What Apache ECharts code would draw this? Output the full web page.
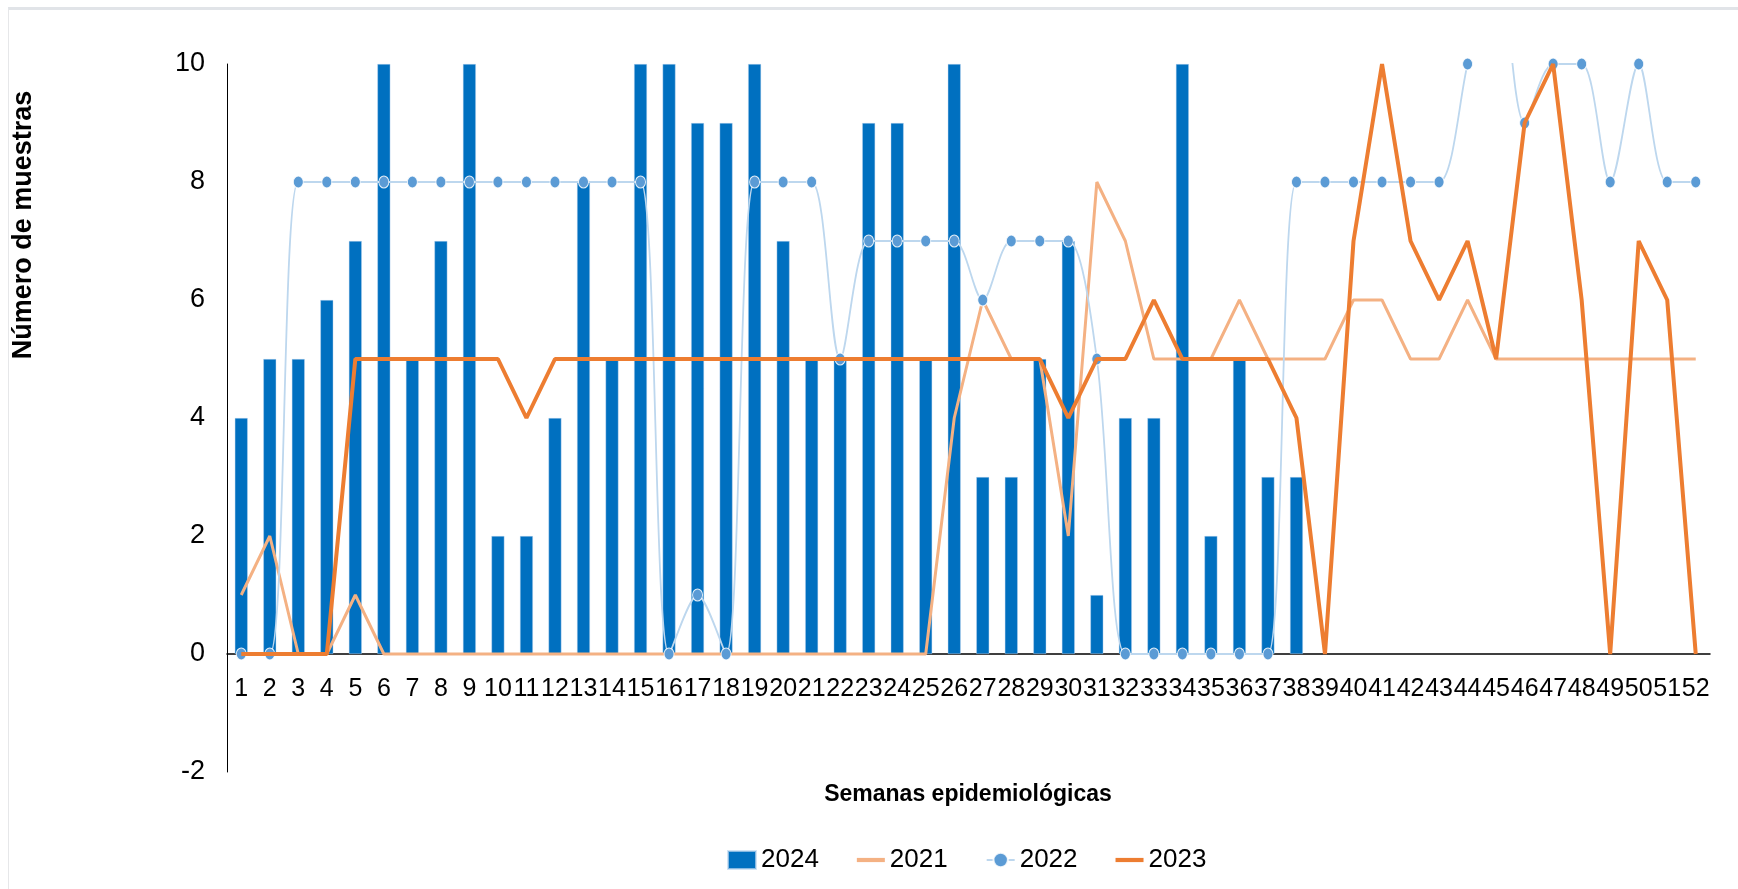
<!DOCTYPE html>
<html lang="es">
<head>
    <meta charset="UTF-8">
    <title>Número de muestras por semana epidemiológica</title>
    <script src="https://cdn.jsdelivr.net/npm/echarts@6/dist/echarts.min.js"></script>
    <style>
        html, body {
            width: 100%;
            height: 100%;
            margin: 0;
            padding: 0;
            overflow: hidden;
            background-color: #fff;
        }
        /* thin frame of the original card, top and left edges */
        .frame {
            position: absolute;
            left: 8px;
            top: 7px;
            right: -10px;
            bottom: -10px;
            border-top: 3px solid #e1e4e8;
            border-left: 1px solid #e6e7e9;
        }
        #chart {
            position: absolute;
            left: 0;
            top: 0;
            width: 1738px;
            height: 889px;
        }
    </style>
</head>
<body>
<div class="frame"></div>
<div id="chart"></div>

<script>
    // Semanas epidemiológicas (eje X)
    var weeks = ['1', '2', '3', '4', '5', '6', '7', '8', '9', '10', '11', '12', '13',
        '14', '15', '16', '17', '18', '19', '20', '21', '22', '23', '24', '25', '26',
        '27', '28', '29', '30', '31', '32', '33', '34', '35', '36', '37', '38', '39',
        '40', '41', '42', '43', '44', '45', '46', '47', '48', '49', '50', '51', '52'];

    // 2024: barras (solo hasta la semana 38)
    var data2024 = [4, 5, 5, 6, 7, 10, 5, 7, 10, 2, 2, 4, 8, 5, 10, 10, 9, 9, 10, 7,
        5, 5, 9, 9, 5, 10, 3, 3, 5, 7, 1, 4, 4, 10, 2, 5, 3, 3];

    // 2021: línea naranja clara
    var data2021 = [1, 2, 0, 0, 1, 0, 0, 0, 0, 0, 0, 0, 0, 0, 0, 0, 0, 0, 0, 0,
        0, 0, 0, 0, 0, 4, 6, 5, 5, 2, 8, 7, 5, 5, 5, 6, 5, 5, 5, 6,
        6, 5, 5, 6, 5, 5, 5, 5, 5, 5, 5, 5];

    // 2022: línea suavizada azul claro con marcadores (semana 45 sale del gráfico)
    var data2022 = [0, 0, 8, 8, 8, 8, 8, 8, 8, 8, 8, 8, 8, 8, 8, 0, 1, 0, 8, 8,
        8, 5, 7, 7, 7, 7, 6, 7, 7, 7, 5, 0, 0, 0, 0, 0, 0, 8, 8, 8,
        8, 8, 8, 10, 12, 9, 10, 10, 8, 10, 8, 8];

    // 2023: línea naranja oscura
    var data2023 = [0, 0, 0, 0, 5, 5, 5, 5, 5, 5, 4, 5, 5, 5, 5, 5, 5, 5, 5, 5,
        5, 5, 5, 5, 5, 5, 5, 5, 5, 4, 5, 5, 6, 5, 5, 5, 5, 4, 0, 7,
        10, 7, 6, 7, 5, 9, 10, 6, 0, 7, 6, 0];

    var font = "'Liberation Sans', Arial, sans-serif";
    // flat bar used as legend icon for the plain lines
    var lineIcon = 'path://M0,0 L30,0 L30,4.5 L0,4.5 Z';

    var chart = echarts.init(document.getElementById('chart'));

    var option = {
        animation: false,
        backgroundColor: 'transparent',
        grid: {
            left: 227,
            right: 28,
            top: 64,
            bottom: 117
        },
        legend: {
            left: 722,
            top: 842,
            itemWidth: 28,
            itemHeight: 18,
            itemGap: 38,
            textStyle: {
                fontSize: 26,
                color: '#000',
                fontFamily: font
            },
            data: [
                { name: '2024', icon: 'rect' },
                { name: '2021', icon: lineIcon },
                { name: '2022' },
                { name: '2023', icon: lineIcon }
            ]
        },
        xAxis: {
            type: 'category',
            data: weeks,
            boundaryGap: true,
            // axis sits on the zero line, 2 units above the grid bottom
            offset: -118,
            axisLine: {
                onZero: false,
                lineStyle: { color: '#000', width: 1.5 }
            },
            axisTick: { show: false },
            axisLabel: {
                interval: 0,
                margin: 23,
                fontSize: 25,
                color: '#000',
                fontFamily: font
            },
            splitLine: { show: false }
        },
        yAxis: {
            type: 'value',
            min: -2,
            max: 10,
            interval: 2,
            axisLine: {
                show: true,
                lineStyle: { color: '#000', width: 1 }
            },
            axisTick: { show: false },
            axisLabel: {
                margin: 22,
                fontSize: 27,
                color: '#000',
                fontFamily: font
            },
            splitLine: { show: false }
        },
        graphic: [
            {
                type: 'text',
                x: 24,
                y: 225,
                rotation: Math.PI / 2,
                style: {
                    text: 'Número de muestras',
                    fontSize: 27,
                    fontWeight: 'bold',
                    fontFamily: font,
                    fill: '#000',
                    textAlign: 'center',
                    textVerticalAlign: 'middle'
                }
            },
            {
                type: 'text',
                x: 968,
                y: 795,
                style: {
                    text: 'Semanas epidemiológicas',
                    fontSize: 23,
                    fontWeight: 'bold',
                    fontFamily: font,
                    fill: '#000',
                    textAlign: 'center',
                    textVerticalAlign: 'middle'
                }
            }
        ],
        series: [
            {
                name: '2024',
                type: 'bar',
                data: data2024,
                barWidth: 13,
                itemStyle: {
                    color: '#0070C0',
                    borderColor: 'rgba(190,215,240,0.7)',
                    borderWidth: 0.6
                }
            },
            {
                name: '2021',
                type: 'line',
                data: data2021,
                symbol: 'none',
                color: '#F4B183',
                lineStyle: { color: '#F4B183', width: 3 },
                z: 3
            },
            {
                name: '2022',
                type: 'line',
                data: data2022,
                smooth: 0.3,
                symbol: 'circle',
                symbolSize: [10, 12],
                color: '#5B9BD5',
                itemStyle: {
                    color: '#5B9BD5',
                    borderColor: 'rgba(255,255,255,0.85)',
                    borderWidth: 1
                },
                lineStyle: { color: '#BDD7EE', width: 1.8 },
                clip: true,
                z: 4
            },
            {
                name: '2023',
                type: 'line',
                data: data2023,
                symbol: 'none',
                color: '#ED7D31',
                lineStyle: { color: '#ED7D31', width: 4 },
                z: 5
            }
        ]
    };

    chart.setOption(option);
</script>
</body>
</html>
